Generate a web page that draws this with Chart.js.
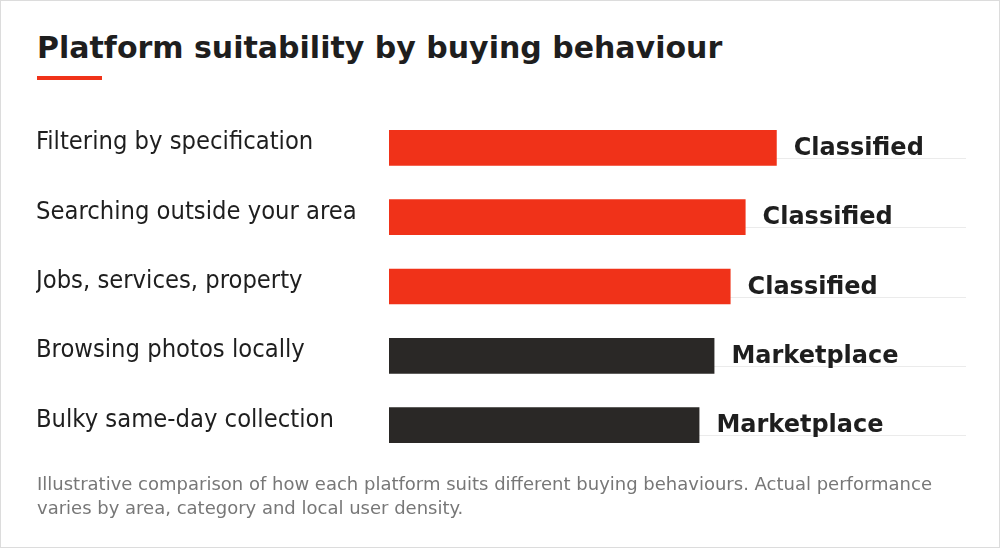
<!DOCTYPE html>
<html><head><meta charset="utf-8">
<script src="https://cdn.jsdelivr.net/npm/chart.js@4"></script>
<style>
html,body{margin:0;padding:0;background:#fff;}
#wrap{position:relative;width:998px;height:546px;border:1px solid #dcdcdc;font-family:"DejaVu Sans",sans-serif;}
h1{position:absolute;left:36px;top:29px;margin:0;font-size:30px;font-weight:bold;color:#1e1e1e;}
#bar{position:absolute;left:36px;top:75px;width:65px;height:4px;background:#f03219;}
#cv{position:absolute;left:0;top:97px;width:998px;height:377px;}
#note{position:absolute;left:36px;top:471px;width:930px;font-size:18px;line-height:24px;color:#777;}
</style></head><body>
<div id="wrap">
<h1>Platform suitability by buying behaviour</h1>
<div id="bar"></div>
<div id="cv"><canvas id="c"></canvas></div>
<div id="note">Illustrative comparison of how each platform suits different buying behaviours. Actual performance varies by area, category and local user density.</div>
</div>
<script>
const categories=["Filtering by specification","Searching outside your area","Jobs, services, property","Browsing photos locally","Bulky same-day collection"];
const values=[67.2,61.8,59.2,56.4,53.8];
const winners=["Classified","Classified","Classified","Marketplace","Marketplace"];
const colors=winners.map(w=>w==="Classified"?"#f03219":"#2a2826");
const deco={id:'deco',
 beforeDatasetsDraw(ch){const {ctx,chartArea:a,scales:{y}}=ch;ctx.save();ctx.strokeStyle='#ebebeb';ctx.lineWidth=1;
  categories.forEach((c,i)=>{const yy=Math.round(y.getPixelForValue(i)+10)+0.5;ctx.beginPath();ctx.moveTo(a.left,yy);ctx.lineTo(a.right,yy);ctx.stroke();});ctx.restore();},
 afterDatasetsDraw(ch){const {ctx}=ch;const m=ch.getDatasetMeta(0);ctx.save();ctx.font='bold 24px "DejaVu Sans"';ctx.fillStyle='#1e1e1e';ctx.textBaseline='middle';
  m.data.forEach((b,i)=>{ctx.fillText(winners[i],b.x+17,b.y+1);});ctx.restore();}};
new Chart(document.getElementById('c'),{type:'bar',
 data:{labels:categories,datasets:[{data:values,backgroundColor:colors,barPercentage:0.514,categoryPercentage:1}]},
 options:{indexAxis:'y',responsive:true,maintainAspectRatio:false,animation:false,
  layout:{padding:{left:35,right:33,top:0,bottom:0}},
  plugins:{legend:{display:false},tooltip:{enabled:false}},
  scales:{x:{display:false,min:0,max:100},
   y:{grid:{display:false},border:{display:false},afterFit(s){s.width=353;},
    ticks:{crossAlign:'far',padding:0,labelOffset:-5,color:'#1e1e1e',font:{family:'DejaVu Sans Condensed',size:25.3}}}}},
 plugins:[deco]});
</script></body></html>
